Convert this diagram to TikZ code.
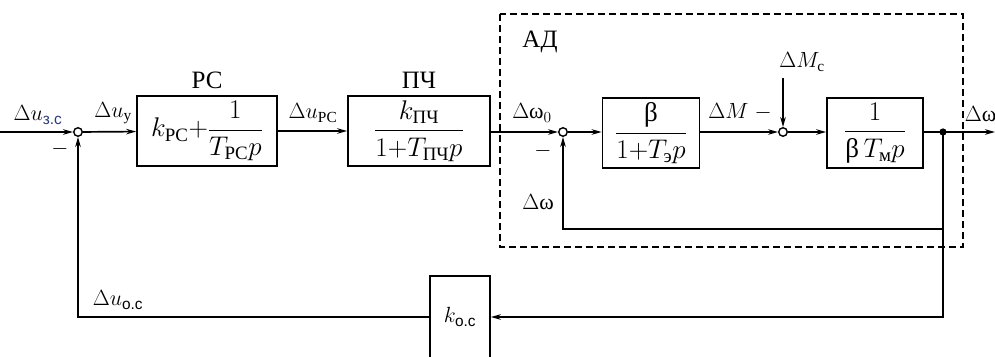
\RequirePackage{fix-cm}
\documentclass[tikz,border=0pt]{standalone}
\usepackage{amsmath}
\usepackage{fontspec}
\setmainfont{Liberation Serif}
\newfontfamily\subsans{Liberation Sans}
\usetikzlibrary{arrows.meta}
\definecolor{subblue}{RGB}{40,60,130}
\begin{document}
\begin{tikzpicture}[x=1pt,y=-1pt,
  line width=1.7pt,
  every node/.style={font=\fontsize{22}{26}\selectfont},
  blk/.style={draw,rectangle,minimum height=70pt,inner sep=2pt,font=\fontsize{27}{30}\selectfont},
  sumj/.style={draw,circle,minimum size=8.5pt,inner sep=0pt,line width=1.4pt,fill=white},
  arr/.style={-{Stealth[length=10pt,width=5.5pt]}},
  lbl/.style={inner sep=1pt},
  bigl/.style={font=\fontsize{25}{28}\selectfont}
]
\clip (0,0) rectangle (995,356);
\fill[white] (0,0) rectangle (995,356);
% dashed motor box
\draw[line width=1.2pt,dash pattern=on 7pt off 4pt] (500,14) rectangle (963,247);
% nodes
\coordinate (in) at (0,132);
\node[sumj] (j1) at (78,132) {};
\node[blk,minimum width=140pt] (pc) at (207,131) {$k_{\text{PC}}{+}\dfrac{1}{T_{\text{PC}}p}$};
\node[blk,minimum width=142pt] (pch) at (419,131) {$\dfrac{k_{\text{ПЧ}}}{1{+}T_{\text{ПЧ}}p}$};
\node[sumj] (j2) at (563,132) {};
\node[blk,minimum width=97pt] (beta) at (651,133) {$\dfrac{\text{β}}{1{+}T_{\text{э}}p}$};
\node[sumj] (j3) at (783,132) {};
\node[blk,minimum width=96pt] (tm) at (875,133) {$\dfrac{1}{\text{β}\,T_{\text{м}}p}$};
\fill (943,132) circle (3.6pt);
\coordinate (dot) at (943,132);
\coordinate (out) at (995,132);
\coordinate (mc) at (783,78);
\coordinate (fb1) at (943,229);
\coordinate (fb2) at (563,229);
\coordinate (fb3) at (943,317);
\node[draw,rectangle,minimum width=60pt,minimum height=85pt,anchor=north] (k) at (460,275) {};
\node at (460,317) {$k_{\text{\subsans о.с}}$};
\coordinate (fb4) at (78,317);
% connectors
\draw[arr] (in) -- (j1);
\draw[arr] (j1) -- (pc);
\draw[arr] (pc) -- (pch);
\draw[arr] (pch.east |- j2) -- (j2);
\draw[arr] (j2) -- (beta.west |- j2);
\draw[arr] (beta.east |- j3) -- (j3);
\draw[arr] (j3) -- (tm.west |- j3);
\draw (tm.east |- dot) -- (dot);
\draw[arr] (dot) -- (out);
\draw[arr] (mc) -- (j3);
\draw[arr] (dot) -- (fb1) -- (fb2) -- (j2);
\draw[arr] (fb1) -- (fb3) -- (k.east |- fb3);
\draw[arr] (k.west |- fb4) -- (fb4) -- (j1);
% labels
\node[lbl] (l1) at (38,115) {$\Delta u_{\text{\subsans\color{subblue}з.с}}$};
\node[lbl] (m1) at (60,149) {$-$};
\node[lbl] (l2) at (113,113) {$\Delta u_{\text{у}}$};
\node[lbl,bigl] (l3) at (207,80) {РС};
\node[lbl] (l4) at (313,113) {$\Delta u_{\text{PC}}$};
\node[lbl,bigl] (l5) at (419,80) {ПЧ};
\node[lbl,bigl] (l6) at (540,42) {АД};
\node[lbl] (l7) at (532,113) {$\Delta\text{ω}_0$};
\node[lbl] (m2) at (543,151) {$-$};
\node[lbl] (l8) at (740,112) {$\Delta M\;-$};
\node[lbl] (l9) at (802,62) {$\Delta M_{\text{c}}$};
\node[lbl,anchor=west] (l10) at (963,114) {$\Delta\text{ω}$};
\node[lbl] (l11) at (538,202) {$\Delta\text{ω}$};
\node[lbl] (l12) at (118,300) {$\Delta u_{\text{\subsans о.с}}$};
\end{tikzpicture}
\end{document}
